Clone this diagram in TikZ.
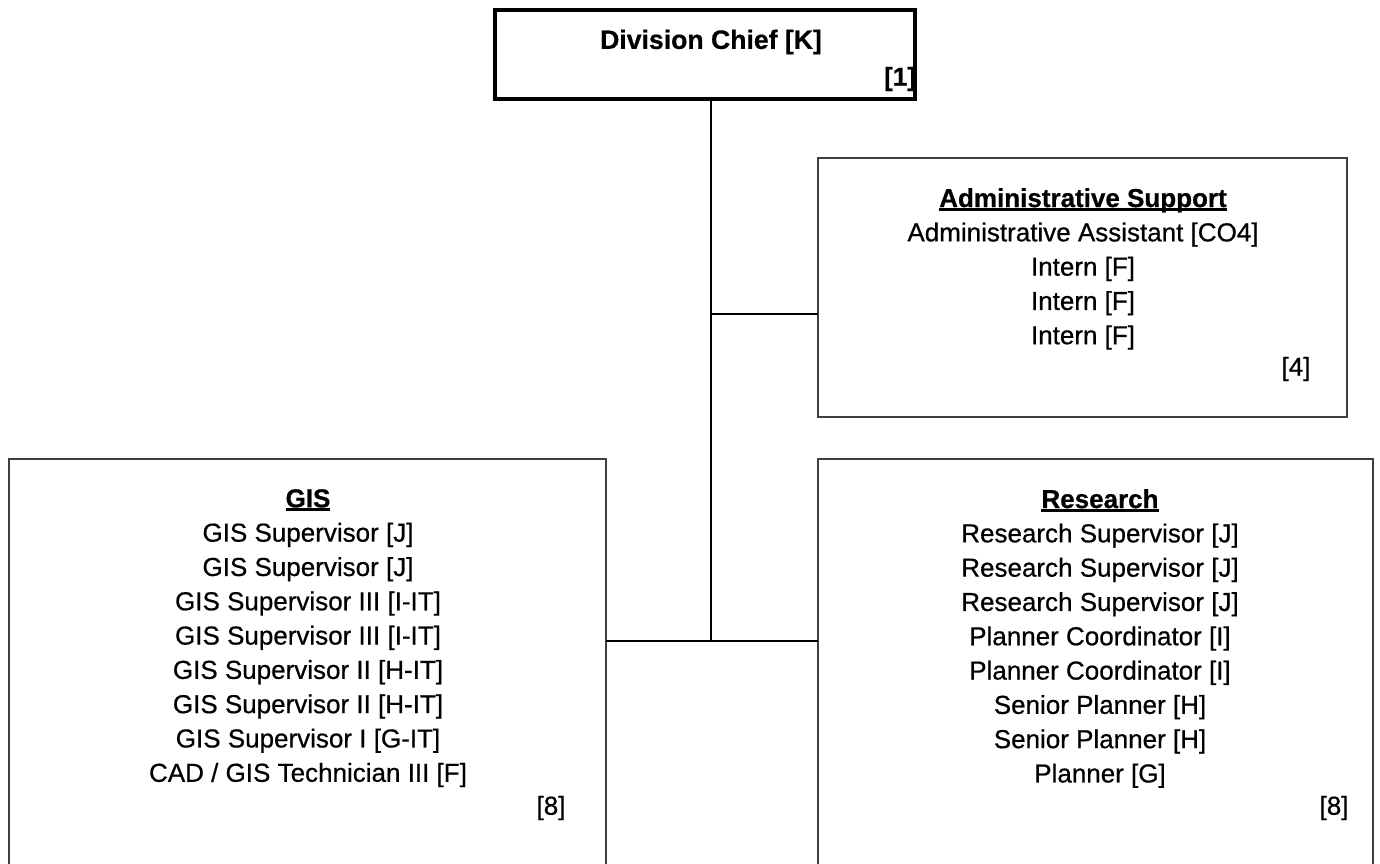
\documentclass[tikz,border=0pt]{standalone}
\usepackage{fontspec}
\setmainfont{Liberation Sans}[FakeBold=0.6]
% bold heading with a heavy underline just below the baseline
\newcommand\headul[1]{\setbox0\hbox{\bfseries #1}\rlap{\rule[-3.5pt]{\wd0}{2.4pt}}\box0}
\begin{document}
\begin{tikzpicture}[x=1pt,y=-1pt,
  chiefbox/.style={draw=black, line width=4pt, inner sep=0, outer sep=0, anchor=north west},
  unitbox/.style={draw=black!75, line width=1.2pt, inner sep=0, outer sep=0, anchor=north west},
  link/.style={line width=2.7pt},
  listtext/.style={align=center, inner sep=0, anchor=north, font=\fontsize{26}{34.3}\selectfont},
  counttext/.style={inner sep=0, anchor=center, font=\fontsize{26}{30}\selectfont}]
\useasboundingbox (0,0) rectangle (1380,863);
\clip (0,0) rectangle (1380,863);

% boxes
\node[chiefbox, minimum width=420pt, minimum height=89pt] (chief) at (495,10) {};
\node[unitbox, minimum width=529pt, minimum height=259pt] (admin) at (818,158) {};
\node[unitbox, minimum width=597pt, minimum height=412pt] (gis) at (9,459) {};
\node[unitbox, minimum width=555pt, minimum height=412pt] (research) at (818,459) {};

% box texts
\node[inner sep=0, font=\fontsize{26.6}{30}\selectfont\bfseries] (chieftitle) at (711,42) {Division Chief [K]};
\node[counttext, font=\fontsize{26}{30}\selectfont\bfseries] (chiefcount) at (900,79) {[1]};

\node[listtext] (admintxt) at (1083,188) {\headul{Administrative Support}\\
  Administrative Assistant [CO4]\\ Intern [F]\\ Intern [F]\\ Intern [F]};
\node[counttext] (admincount) at (1296,369) {[4]};

\node[listtext] (gistxt) at (308,489) {\headul{GIS}\\
  GIS Supervisor [J]\\ GIS Supervisor [J]\\ GIS Supervisor III [I-IT]\\
  GIS Supervisor III [I-IT]\\ GIS Supervisor II [H-IT]\\ GIS Supervisor II [H-IT]\\
  GIS Supervisor I [G-IT]\\ CAD / GIS Technician III [F]};
\node[counttext] (giscount) at (551,808) {[8]};

\node[listtext] (restxt) at (1100,489) {\headul{Research}\\
  Research Supervisor [J]\\ Research Supervisor [J]\\ Research Supervisor [J]\\
  Planner Coordinator [I]\\ Planner Coordinator [I]\\ Senior Planner [H]\\
  Senior Planner [H]\\ Planner [G]};
\node[counttext] (rescount) at (1334,808) {[8]};

% connectors
\coordinate (hub) at (711,641);
\coordinate (adminlink) at (admin.west |- 0,314);
\draw[link] (hub |- chief.south) -- (hub);
\draw[link] (hub |- adminlink) -- (adminlink);
\draw[link] (gis.east |- hub) -- (research.west |- hub);
\end{tikzpicture}
\end{document}
